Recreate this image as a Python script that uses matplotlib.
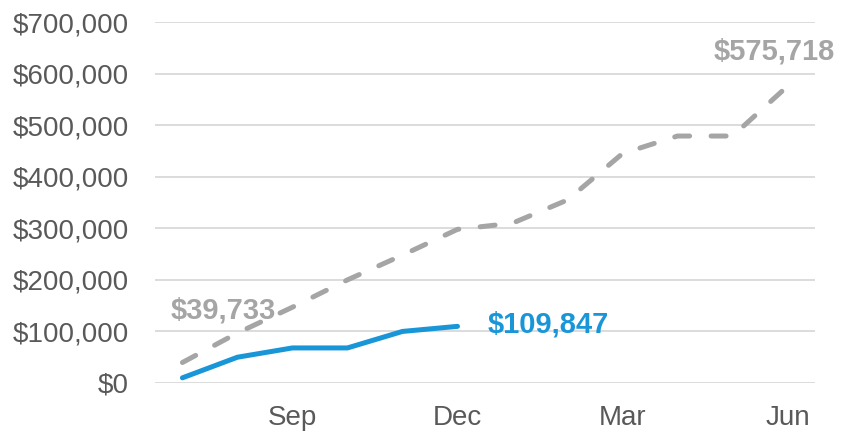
import numpy as np
import matplotlib.pyplot as plt
from matplotlib.ticker import FuncFormatter

plt.rcParams['font.family'] = ['Liberation Sans', 'DejaVu Sans']

# data
months = ['Jul', 'Aug', 'Sep', 'Oct', 'Nov', 'Dec',
          'Jan', 'Feb', 'Mar', 'Apr', 'May', 'Jun']
last_year = [39733, 97000, 147000, 200000, 248000, 298000,
             310000, 355000, 445000, 479000, 479000, 575718]
this_year = [10000, 50000, 68000, 68000, 100000, 109847]
shown_ticks = ['Sep', 'Dec', 'Mar', 'Jun']

blue = '#1996d8'
gray = '#a5a5a5'
text_col = '#595959'

fig = plt.figure(figsize=(8.42, 4.33), dpi=100)
ax = fig.add_axes([0.184, 0.1155, 0.784, 0.8335])

x_all = np.arange(len(months))
x_this = np.arange(len(this_year))

ax.plot(x_all, last_year, color=gray, lw=3.6, dashes=(3, 4.3),
        dash_capstyle='round', solid_capstyle='round', zorder=3)
ax.plot(x_this, this_year, color=blue, lw=3.6,
        solid_capstyle='round', solid_joinstyle='round', zorder=4)

# value labels
ax.annotate('${:,}'.format(last_year[0]), (x_all[0], last_year[0]),
            xytext=(29.5, 37.5), textcoords='offset points',
            ha='center', va='center', fontsize=21, fontweight='bold', color=gray)
ax.annotate('${:,}'.format(this_year[-1]), (x_this[-1], this_year[-1]),
            xytext=(21.5, 1.5), textcoords='offset points',
            ha='left', va='center', fontsize=21, fontweight='bold', color=blue)
ax.annotate('${:,}'.format(last_year[-1]), (x_all[-1], last_year[-1]),
            xytext=(-9.5, 25), textcoords='offset points',
            ha='center', va='center', fontsize=21, fontweight='bold', color=gray)

ax.set_xlim(-0.5, len(months) - 0.5)
ax.set_ylim(0, 700000)
ax.set_yticks(np.arange(0, 700001, 100000))
ax.yaxis.set_major_formatter(FuncFormatter(lambda v, p: '${:,.0f}'.format(v)))
ax.set_xticks([months.index(m) for m in shown_ticks])
ax.set_xticklabels(shown_ticks)

ax.grid(axis='y', color='#d9d9d9', lw=1.3)
ax.set_axisbelow(True)
for s in ['top', 'right', 'left', 'bottom']:
    ax.spines[s].set_visible(False)
ax.tick_params(axis='both', length=0, labelsize=20, labelcolor=text_col)
ax.tick_params(axis='y', pad=19)
ax.tick_params(axis='x', pad=15.5)

plt.savefig('out.png', dpi=100)
